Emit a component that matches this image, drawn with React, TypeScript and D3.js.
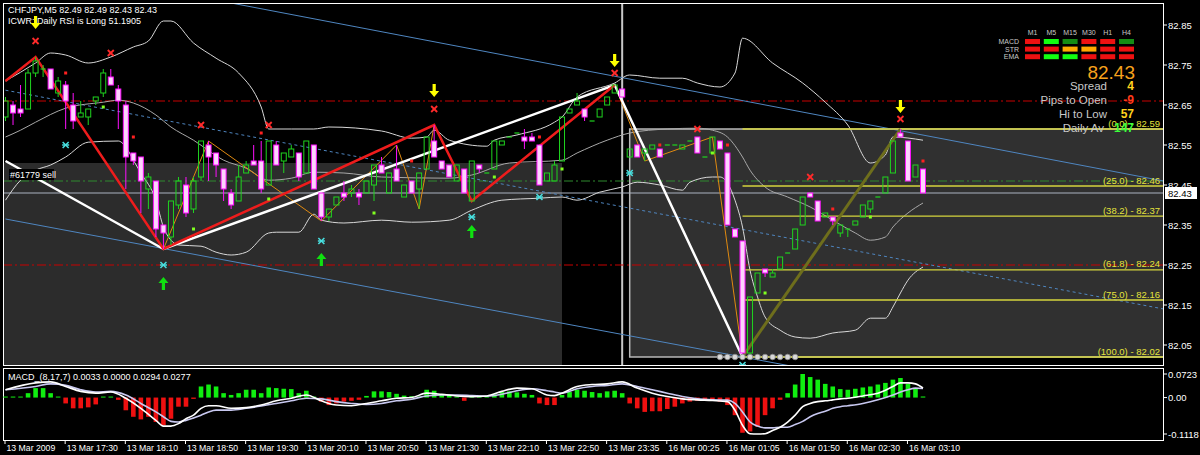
import React from "react";
import * as d3 from "d3";

// ---------------- DATA ----------------
const opens = [
  82.62, 82.65, 82.64, 82.64, 82.73, 82.74, 82.74, 82.68, 82.70, 82.65,
  82.62, 82.62, 82.66, 82.68, 82.72, 82.69, 82.65, 82.53, 82.52, 82.44,
  82.46, 82.35, 82.32, 82.40, 82.45, 82.39, 82.47, 82.55, 82.53, 82.49,
  82.43, 82.41, 82.48, 82.51, 82.51, 82.45, 82.55, 82.51, 82.52, 82.53,
  82.48, 82.55, 82.43, 82.37, 82.40, 82.43, 82.43, 82.43, 82.43, 82.45,
  82.50, 82.43, 82.49, 82.42, 82.46, 82.44, 82.49, 82.56, 82.51, 82.50,
  82.46, 82.49, 82.41, 82.50, 82.48, 82.49, 82.55, 82.57, 82.58, 82.57,
  82.57, 82.55, 82.46, 82.46, 82.51, 82.63, 82.65, 82.64, 82.61, 82.62,
  82.65, 82.68, 82.69, 82.52, 82.55, 82.53, 82.54, 82.54, 82.55, 82.55,
  82.54, 82.56, 82.57, 82.52, 82.53, 82.56, 82.53, 82.34, 82.31, 82.03,
  82.18, 82.24, 82.22, 82.24, 82.28, 82.29, 82.35, 82.43, 82.41, 82.37,
  82.37, 82.33, 82.34, 82.35, 82.37, 82.39, 82.42, 82.43, 82.48, 82.58,
  82.56, 82.47, 82.49,
];
const highs = [
  82.67, 82.66, 82.70, 82.74, 82.77, 82.75, 82.74, 82.72, 82.71, 82.68,
  82.66, 82.64, 82.67, 82.74, 82.74, 82.70, 82.66, 82.53, 82.52, 82.48,
  82.46, 82.35, 82.41, 82.47, 82.47, 82.47, 82.56, 82.56, 82.53, 82.49,
  82.44, 82.50, 82.51, 82.55, 82.56, 82.56, 82.56, 82.53, 82.55, 82.53,
  82.56, 82.55, 82.43, 82.39, 82.42, 82.46, 82.45, 82.44, 82.46, 82.50,
  82.52, 82.48, 82.55, 82.45, 82.46, 82.48, 82.57, 82.60, 82.51, 82.50,
  82.50, 82.49, 82.51, 82.50, 82.48, 82.56, 82.56, 82.57, 82.58, 82.59,
  82.58, 82.55, 82.48, 82.51, 82.62, 82.64, 82.68, 82.64, 82.61, 82.64,
  82.67, 82.70, 82.69, 82.54, 82.55, 82.54, 82.55, 82.54, 82.55, 82.55,
  82.55, 82.56, 82.57, 82.52, 82.57, 82.56, 82.53, 82.34, 82.31, 82.17,
  82.23, 82.24, 82.24, 82.27, 82.28, 82.34, 82.42, 82.43, 82.41, 82.38,
  82.37, 82.35, 82.34, 82.36, 82.40, 82.41, 82.42, 82.47, 82.56, 82.59,
  82.56, 82.50, 82.49,
];
const lows = [
  82.61, 82.60, 82.62, 82.64, 82.72, 82.72, 82.69, 82.67, 82.59, 82.59,
  82.62, 82.60, 82.65, 82.67, 82.70, 82.59, 82.44, 82.50, 82.38, 82.39,
  82.32, 82.29, 82.30, 82.39, 82.37, 82.38, 82.46, 82.46, 82.47, 82.41,
  82.39, 82.41, 82.48, 82.50, 82.43, 82.45, 82.50, 82.48, 82.52, 82.46,
  82.48, 82.44, 82.36, 82.36, 82.40, 82.41, 82.42, 82.40, 82.43, 82.41,
  82.48, 82.43, 82.46, 82.42, 82.43, 82.39, 82.49, 82.52, 82.49, 82.47,
  82.46, 82.43, 82.41, 82.48, 82.48, 82.49, 82.55, 82.57, 82.58, 82.54,
  82.56, 82.45, 82.46, 82.46, 82.51, 82.63, 82.65, 82.61, 82.61, 82.62,
  82.65, 82.68, 82.67, 82.52, 82.52, 82.51, 82.54, 82.52, 82.55, 82.55,
  82.54, 82.56, 82.53, 82.52, 82.53, 82.54, 82.35, 82.32, 82.02, 82.02,
  82.18, 82.22, 82.22, 82.24, 82.28, 82.29, 82.35, 82.42, 82.36, 82.37,
  82.35, 82.32, 82.32, 82.35, 82.37, 82.38, 82.42, 82.43, 82.48, 82.57,
  82.46, 82.47, 82.43,
];
const closes = [
  82.66, 82.63, 82.63, 82.73, 82.76, 82.74, 82.69, 82.71, 82.66, 82.61,
  82.63, 82.64, 82.67, 82.73, 82.70, 82.66, 82.52, 82.51, 82.46, 82.47,
  82.34, 82.33, 82.41, 82.46, 82.38, 82.46, 82.56, 82.52, 82.50, 82.44,
  82.40, 82.47, 82.50, 82.50, 82.44, 82.56, 82.50, 82.53, 82.54, 82.47,
  82.56, 82.44, 82.37, 82.39, 82.42, 82.42, 82.44, 82.42, 82.46, 82.50,
  82.48, 82.48, 82.46, 82.45, 82.43, 82.48, 82.57, 82.52, 82.49, 82.47,
  82.50, 82.43, 82.51, 82.49, 82.48, 82.56, 82.56, 82.57, 82.58, 82.56,
  82.56, 82.45, 82.48, 82.50, 82.62, 82.64, 82.66, 82.62, 82.61, 82.64,
  82.67, 82.70, 82.67, 82.54, 82.52, 82.54, 82.55, 82.52, 82.55, 82.55,
  82.55, 82.56, 82.53, 82.52, 82.57, 82.54, 82.35, 82.32, 82.03, 82.17,
  82.23, 82.23, 82.23, 82.27, 82.28, 82.34, 82.42, 82.42, 82.36, 82.38,
  82.36, 82.35, 82.34, 82.36, 82.40, 82.41, 82.42, 82.47, 82.56, 82.57,
  82.46, 82.50, 82.43,
];

const timeLabelBars = [0, 8, 16, 24, 32, 40, 48, 56, 64, 72, 80, 88, 96, 104, 112, 120];
const timeLabels = [
  "13 Mar 2009", "13 Mar 17:30", "13 Mar 18:10", "13 Mar 18:50", "13 Mar 19:30",
  "13 Mar 20:10", "13 Mar 20:50", "13 Mar 21:30", "13 Mar 22:10", "13 Mar 22:50",
  "13 Mar 23:35", "16 Mar 00:25", "16 Mar 01:05", "16 Mar 01:50", "16 Mar 02:30", "16 Mar 03:10",
];
const priceTicks = [82.85, 82.75, 82.65, 82.55, 82.45, 82.35, 82.25, 82.15, 82.05];

const macdHist = [
  0.001, 0.001, 0.001, 0.0135, 0.029, 0.029, 0.0135, 0.003, -0.018, -0.033,
  -0.033, -0.030, -0.021, 0.000, 0.002, -0.007, -0.039, -0.059, -0.067, -0.059,
  -0.075, -0.085, -0.065, -0.028, -0.028, -0.004, 0.034, 0.040, 0.034, 0.0135,
  0.008, 0.0135, 0.024, 0.024, 0.0135, 0.031, 0.029, 0.027, 0.026, 0.0135,
  0.021, 0.001, -0.0125, -0.023, -0.018, -0.0125, -0.010, -0.007, 0.005, 0.019,
  0.019, 0.017, 0.0115, 0.006, 0.004, 0.001, 0.024, 0.021, 0.008, 0.008,
  0.001, -0.010, 0.001, 0.001, 0.001, 0.010, 0.017, 0.019, 0.016, 0.0115,
  0.008, -0.018, -0.023, -0.023, 0.008, 0.017, 0.024, 0.021, 0.017, 0.0135,
  0.019, 0.021, 0.0135, -0.018, -0.033, -0.044, -0.042, -0.042, -0.035, -0.028,
  -0.018, -0.0125, -0.010, -0.010, -0.010, -0.0125, -0.023, -0.054, -0.108, -0.104,
  -0.090, -0.054, -0.033, -0.007, 0.0135, 0.040, 0.0723, 0.063, 0.055, 0.042,
  0.034, 0.026, 0.024, 0.027, 0.031, 0.034, 0.040, 0.045, 0.055, 0.060,
  0.042, 0.029, 0.0033,
];
const macdBars = [
  0, 4, 6, 8, 10, 12, 14, 16, 18, 20,
  21, 22, 23, 24, 25, 26, 27, 28,
  30, 32, 34, 36, 38, 40, 42, 44, 46, 48,
  50, 52, 54, 56, 58, 60, 62, 64, 66, 68,
  70, 72, 73, 74, 76, 78, 80, 82, 84, 86,
  88, 90, 92, 94, 96, 97, 98, 99, 100, 101,
  102, 103, 104, 105, 106, 107, 108, 109, 110, 111,
  112, 114, 116, 118, 119, 120, 121, 122,
];
const macdMain = [
  0.024, 0.045, 0.048, 0.034, 0.019, 0.0135, 0.017, -0.002, -0.033, -0.070,
  -0.0875, -0.0875, -0.080, -0.065, -0.054, -0.033, -0.025, -0.025,
  -0.033, -0.031, -0.023, -0.010, -0.002, 0.008, -0.010, -0.023, -0.025, -0.018,
  -0.010, -0.002, 0.000, 0.0135, 0.010, 0.005, 0.003, 0.005, 0.019, 0.029,
  0.027, 0.008, 0.006, 0.0135, 0.034, 0.040, 0.042, 0.048, 0.029, 0.0135,
  0.003, -0.004, -0.007, -0.009, -0.0125, -0.039, -0.085, -0.111, -0.1118, -0.111,
  -0.101, -0.091, -0.075, -0.054, -0.028, -0.018, -0.0125, -0.010, -0.007, -0.004,
  -0.002, 0.005, 0.0135, 0.034, 0.045, 0.045, 0.042, 0.0294,
];
const macdSignal = [
  0.024, 0.034, 0.042, 0.0375, 0.024, 0.017, 0.019, 0.008, -0.018, -0.044,
  -0.059, -0.073, -0.075, -0.070, -0.0625, -0.054, -0.044, -0.0385,
  -0.0385, -0.033, -0.026, -0.018, -0.010, -0.002, -0.004, -0.0125, -0.018, -0.021,
  -0.018, -0.010, -0.005, 0.005, 0.008, 0.008, 0.006, 0.004, 0.010, 0.021,
  0.027, 0.021, 0.017, 0.0135, 0.027, 0.034, 0.0375, 0.042, 0.034, 0.024,
  0.0135, 0.003, -0.004, -0.007, -0.008, -0.018, -0.044, -0.075, -0.0875, -0.093,
  -0.093, -0.091, -0.091, -0.083, -0.073, -0.059, -0.049, -0.042, -0.033, -0.028,
  -0.025, -0.018, -0.007, 0.008, 0.017, 0.024, 0.029, 0.0277,
];
const macdTicks = [0.0723, 0, -0.1118];
const macdTickLabels = ["0.0723", "0.00", "-0.1118"];

const upperBand = [
  [0, 82.71], [4, 82.755], [6, 82.78], [8, 82.775], [11, 82.755], [14, 82.77], [17, 82.795],
  [19, 82.81], [21, 82.86], [22, 82.86], [25, 82.805], [28, 82.767], [31, 82.73], [34, 82.645],
  [35, 82.59], [38, 82.59], [41, 82.59], [43, 82.595], [50, 82.585], [54, 82.567], [56, 82.57],
  [57, 82.587], [59, 82.562], [64, 82.547], [65, 82.562], [68, 82.575], [73, 82.607], [74, 82.62],
  [76, 82.67], [81, 82.705], [83, 82.725], [87, 82.717], [90, 82.717], [92, 82.705], [95, 82.695],
  [97, 82.73], [98, 82.817], [102, 82.755], [106, 82.705], [109, 82.657], [112, 82.6], [115, 82.505],
  [117, 82.525], [118, 82.57], [122, 82.562],
];
const middleBand = [
  [0, 82.57], [2, 82.587], [4, 82.607], [8, 82.642], [13, 82.657], [15, 82.662], [17, 82.655],
  [20, 82.625], [22, 82.595], [25, 82.562], [29, 82.512], [32, 82.492], [35, 82.462], [38, 82.467],
  [41, 82.482], [45, 82.48], [50, 82.47], [59, 82.467], [62, 82.475], [67, 82.505], [74, 82.512],
  [76, 82.53], [80, 82.562], [83, 82.58], [88, 82.59], [92, 82.592], [94, 82.587], [96, 82.57],
  [98, 82.52], [99, 82.487], [101, 82.445], [104, 82.42], [107, 82.395], [110, 82.362], [113, 82.33],
  [115, 82.312], [117, 82.32], [118, 82.345], [120, 82.38], [122, 82.405],
];
const lowerBand = [
  [0, 82.412], [2, 82.462], [4, 82.487], [6, 82.5], [8, 82.52], [11, 82.557], [15, 82.56],
  [16, 82.545], [17, 82.512], [18, 82.48], [20, 82.412], [21, 82.345], [22, 82.312], [23, 82.3],
  [26, 82.297], [28, 82.282], [30, 82.275], [32, 82.282], [35, 82.33], [36, 82.332], [39, 82.332],
  [41, 82.377], [42, 82.362], [45, 82.355], [50, 82.362], [54, 82.357], [59, 82.362], [62, 82.387],
  [66, 82.412], [71, 82.417], [74, 82.42], [76, 82.412], [79, 82.432], [82, 82.445], [84, 82.457],
  [87, 82.45], [90, 82.437], [91, 82.457], [94, 82.47], [95, 82.47], [96, 82.455], [97, 82.412],
  [98, 82.345], [99, 82.237], [100, 82.17], [101, 82.12], [103, 82.087], [105, 82.07], [107, 82.067],
  [110, 82.08], [113, 82.087], [115, 82.117], [117, 82.117], [118, 82.145], [119, 82.18],
  [120, 82.212], [122, 82.245],
];

const redZigzag = [[0, 82.71], [4, 82.77], [21, 82.29], [57, 82.60], [62, 82.41], [81, 82.70]];
const whiteZigzag = [[0, 82.51], [21, 82.29], [81, 82.70], [98, 82.02]];
const orangeZigzag = [
  [21, 82.29], [27, 82.56], [42, 82.36], [52, 82.55], [55, 82.39], [57, 82.60],
  [62, 82.41], [81, 82.70], [85, 82.51], [94, 82.57], [98, 82.02],
];
const fibTrendLine = [[98, 82.02], [119, 82.59]];
const channelTop = [[30, 82.905], [154, 82.46]];
const channelMid = [[0, 82.687], [154, 82.14]];
const channelLow = [[0, 82.365], [154, 81.823]];

const redLevels = [82.66, 82.25];
const orderLevel = 82.46;
const bidLevel = 82.43;

const fibLevels = [0, 25, 38.2, 61.8, 75, 100];
const fibLabelPrices = ["82.59", "82.46", "82.37", "82.24", "82.16", "82.02"];
const fibHigh = 82.59;
const fibLow = 82.02;
const fibStartBar = 98;
const fibBoxStartBar = 83;
const leftBoxEndBar = 74;
const leftBoxTop = 82.505;
const separatorBar = 82;

const redCrosses = [[4, 82.81], [14, 82.78], [26, 82.60], [35, 82.60], [57, 82.64], [81, 82.73], [92, 82.59], [107, 82.47], [119, 82.615]];
const redDots = [[8, 82.73], [17, 82.57], [34, 82.58], [54, 82.51], [71, 82.57], [87, 82.55], [96, 82.55], [110, 82.39], [122, 82.51]];
const greenDots = [[13, 82.645], [25, 82.34], [35, 82.415], [49, 82.38], [65, 82.47], [74, 82.49], [94, 82.53], [101, 82.18], [115, 82.37]];
const cyanMarks = [[8, 82.55], [21, 82.25], [42, 82.31], [62, 82.37], [71, 82.42], [83, 82.48], [98, 82.0]];
const downArrows = [[4, 82.84], [57, 82.67], [81, 82.745], [119, 82.63]];
const upArrows = [[21, 82.22], [42, 82.28], [62, 82.35]];
const circleBars = [95, 96, 97, 98, 99, 100, 101, 102, 103, 104, 105];
const circlePrice = 82.02;

const tfLabels = ["M1", "M5", "M15", "M30", "H1", "H4"];
const rowLabels = ["MACD", "STR", "EMA"];
const signalRows = [
  ["red", "lime", "dark", "red", "red", "dark"],
  ["red", "red", "orange", "orange", "red", "red"],
  ["red", "lime", "lime", "red", "red", "red"],
];
const infoLabels = ["Spread", "Pips to Open", "Hi to Low", "Daily Av"];
const infoValues = ["4", "-9", "57", "147"];

// ---------------- LAYOUT ----------------
const FL = 3, FR = 1163, MT = 3, MB = 365, PT = 368, PB = 440;
const FONT = "'Liberation Sans', Arial, sans-serif";

const sigColor: Record<string, string> = {
  red: "#ee1111", lime: "#11ff11", dark: "#148c14", orange: "#ffaa00",
};

export default function App() {
  const x = d3.scaleLinear().domain([0, 122]).range([5.5, 923]);
  const y = d3.scaleLinear().domain([82.85, 82.05]).range([25, 345]);
  const ym = d3.scaleLinear().domain([0.0723, -0.1118]).range([374, 434]);

  const lin = d3.line<number[]>().x((d) => x(d[0])).y((d) => y(d[1]));
  const smooth = d3.line<number[]>().x((d) => x(d[0])).y((d) => y(d[1])).curve(d3.curveMonotoneX);
  const macdLine = (vals: number[]) =>
    d3.line<number>().x((_, i) => x(macdBars[i])).y((d) => ym(d)).curve(d3.curveMonotoneX)(vals) || "";

  const fibPrice = (lv: number) => fibHigh - ((fibHigh - fibLow) * lv) / 100;
  const dashDot = "9,3,2,3";

  return (
    <div style={{ position: "fixed", left: 0, top: 0, width: 1200, height: 455, background: "#000" }}>
      <svg width={1200} height={455} style={{ display: "block" }} fontFamily={FONT}>
        <defs>
          <clipPath id="mainClip">
            <rect x={FL} y={MT} width={FR - FL} height={MB - MT} />
          </clipPath>
          <clipPath id="macdClip">
            <rect x={FL} y={PT} width={FR - FL} height={PB - PT} />
          </clipPath>
        </defs>
        <rect x={0} y={0} width={1200} height={455} fill="#000" />

        {/* ---------- MAIN PANEL ---------- */}
        <g clipPath="url(#mainClip)">
          {/* shaded rectangles */}
          <rect x={FL} y={y(leftBoxTop)} width={x(leftBoxEndBar) - FL} height={MB - y(leftBoxTop)} fill="#2c2c2c" />
          <rect x={x(fibBoxStartBar)} y={y(fibHigh)} width={1200 - x(fibBoxStartBar)} height={y(fibLow) - y(fibHigh)} fill="#303030" />
          <rect x={x(fibBoxStartBar)} y={y(fibHigh)} width={1200 - x(fibBoxStartBar)} height={y(fibLow) - y(fibHigh)} fill="none" stroke="#b8b8b8" strokeWidth={1.5} />

          {/* period separator */}
          <line x1={x(separatorBar)} x2={x(separatorBar)} y1={MT} y2={MB} stroke="#c8c8c8" strokeWidth={2} />

          {/* horizontal levels */}
          {redLevels.map((p, i) => (
            <line key={"rl" + i} x1={FL} x2={FR} y1={y(p)} y2={y(p)} stroke="#c80000" strokeWidth={1.2} strokeDasharray={dashDot} />
          ))}
          <line x1={FL} x2={FR} y1={y(orderLevel)} y2={y(orderLevel)} stroke="#2f8a2f" strokeWidth={1.2} strokeDasharray={dashDot} />
          <line x1={FL} x2={FR} y1={y(bidLevel)} y2={y(bidLevel)} stroke="#aab2c0" strokeWidth={1} />

          {/* channel lines */}
          <path d={lin(channelTop) || ""} stroke="#4f86c0" strokeWidth={1} fill="none" />
          <path d={lin(channelMid) || ""} stroke="#4f86c0" strokeWidth={1} fill="none" strokeDasharray="3,3" />
          <path d={lin(channelLow) || ""} stroke="#4f86c0" strokeWidth={1} fill="none" />

          {/* bands */}
          <path d={smooth(upperBand) || ""} stroke="#d8d8d8" strokeWidth={1} fill="none" />
          <path d={smooth(middleBand) || ""} stroke="#a8a8a8" strokeWidth={1} fill="none" />
          <path d={smooth(lowerBand) || ""} stroke="#d8d8d8" strokeWidth={1} fill="none" />

          {/* fibonacci lines */}
          {fibLevels.map((lv, i) => (
            <g key={"fib" + i}>
              <line x1={x(fibStartBar)} x2={FR} y1={y(fibPrice(lv))} y2={y(fibPrice(lv))} stroke="#d4d43c" strokeWidth={1.3} />
              <text x={1160} y={y(fibPrice(lv)) - 2.5} fill="#e4e43c" fontSize={9.5} textAnchor="end">
                {`(${lv.toFixed(1)}) - ${fibLabelPrices[i]}`}
              </text>
            </g>
          ))}

          {/* zigzags */}
          <path d={lin(orangeZigzag) || ""} stroke="#e08a10" strokeWidth={1} fill="none" />
          <path d={lin(whiteZigzag) || ""} stroke="#ffffff" strokeWidth={2.5} fill="none" />
          <path d={lin(redZigzag) || ""} stroke="#ee1c1c" strokeWidth={2.5} fill="none" />
          <path d={lin(fibTrendLine) || ""} stroke="#6e6e1c" strokeWidth={3} fill="none" />

          {/* candles */}
          {opens.map((o, i) => {
            const c = closes[i];
            const cx = x(i);
            const bull = c >= o;
            const col = bull ? "#1fd41f" : "#ff10ff";
            const top = y(Math.max(o, c));
            const bot = y(Math.min(o, c));
            const hy = y(highs[i]);
            const ly = y(lows[i]);
            const doji = bot - top < 1;
            return (
              <g key={"c" + i}>
                {hy < top && <line x1={cx} x2={cx} y1={hy} y2={top} stroke={col} strokeWidth={1} />}
                {ly > bot && <line x1={cx} x2={cx} y1={bot} y2={ly} stroke={col} strokeWidth={1} />}
                {doji ? (
                  <line x1={cx - 2.5} x2={cx + 2.5} y1={top} y2={top} stroke={col} strokeWidth={1.2} />
                ) : bull ? (
                  <rect x={cx - 2.5} y={top} width={5} height={bot - top} fill="none" stroke={col} strokeWidth={1} />
                ) : (
                  <rect x={cx - 2.5} y={top} width={5} height={bot - top} fill="#fcd4fc" stroke={col} strokeWidth={1} />
                )}
              </g>
            );
          })}

          {/* markers */}
          {circleBars.map((b) => (
            <circle key={"ci" + b} cx={x(b)} cy={y(circlePrice)} r={2.8} fill="#d8d8d8" stroke="#888" strokeWidth={0.8} />
          ))}
          {redDots.map((d, i) => (
            <rect key={"rd" + i} x={x(d[0]) - 1.5} y={y(d[1]) - 1.5} width={3} height={3} fill="#ff2020" />
          ))}
          {greenDots.map((d, i) => (
            <rect key={"gd" + i} x={x(d[0]) - 1.5} y={y(d[1]) - 1.5} width={3} height={3} fill="#80ff20" />
          ))}
          {redCrosses.map((d, i) => {
            const cx = x(d[0]), cy = y(d[1]);
            return (
              <g key={"rx" + i} stroke="#ff2a2a" strokeWidth={1.8}>
                <line x1={cx - 3} x2={cx + 3} y1={cy - 3} y2={cy + 3} />
                <line x1={cx - 3} x2={cx + 3} y1={cy + 3} y2={cy - 3} />
              </g>
            );
          })}
          {cyanMarks.map((d, i) => {
            const cx = x(d[0]), cy = y(d[1]);
            return (
              <g key={"cy" + i} stroke="#48e0e0" strokeWidth={1.5}>
                <line x1={cx - 3} x2={cx + 3} y1={cy - 3} y2={cy + 3} />
                <line x1={cx - 3} x2={cx + 3} y1={cy + 3} y2={cy - 3} />
                <line x1={cx - 3.5} x2={cx + 3.5} y1={cy} y2={cy} />
              </g>
            );
          })}
          {upArrows.map((d, i) => {
            const cx = x(d[0]), ty = y(d[1]);
            return (
              <path key={"ua" + i} fill="#10e010"
                d={`M${cx - 1.6},${ty + 13} L${cx + 1.6},${ty + 13} L${cx + 1.6},${ty + 6} L${cx + 5},${ty + 6} L${cx},${ty} L${cx - 5},${ty + 6} L${cx - 1.6},${ty + 6} Z`} />
            );
          })}
        </g>

        {/* top-left info */}
        <text x={8} y={13} fill="#fff" fontSize={9}>CHFJPY,M5  82.49 82.49 82.43 82.43</text>
        <text x={8} y={23.5} fill="#fff" fontSize={9}>ICWR: Daily RSI is Long 51.1905</text>
        {downArrows.map((d, i) => {
          const cx = x(d[0]), ty = y(d[1]);
          return (
            <path key={"da" + i} fill="#ffff00"
              d={`M${cx - 1.6},${ty - 13} L${cx + 1.6},${ty - 13} L${cx + 1.6},${ty - 6} L${cx + 5},${ty - 6} L${cx},${ty} L${cx - 5},${ty - 6} L${cx - 1.6},${ty - 6} Z`} />
          );
        })}

        {/* order label */}
        <rect x={9} y={169} width={45} height={11} fill="#000" />
        <text x={10} y={178} fill="#fff" fontSize={9}>#61779 sell</text>

        {/* signal matrix */}
        {tfLabels.map((t, j) => (
          <text key={"tf" + j} x={1032.5 + j * 18.8} y={35} fill="#c8c8c8" fontSize={7} textAnchor="middle">{t}</text>
        ))}
        {rowLabels.map((r, k) => (
          <text key={"rw" + k} x={1019} y={44 + k * 7.6} fill="#c8c8c8" fontSize={7} textAnchor="end">{r}</text>
        ))}
        {signalRows.map((row, k) =>
          row.map((s, j) => (
            <rect key={`sg${k}-${j}`} x={1025 + j * 18.8} y={39 + k * 7.6} width={15} height={5} fill={sigColor[s]} />
          ))
        )}
        <text x={1135} y={79} fill="#f7a21c" fontSize={19} textAnchor="end">82.43</text>
        {infoLabels.map((l, k) => (
          <text key={"il" + k} x={k === 3 ? 1104 : 1107} y={90 + k * 14} fill="#c8c8c8" fontSize={11.5} textAnchor="end">{l}</text>
        ))}
        {infoValues.map((v, k) => (
          <text key={"iv" + k} x={1134} y={90 + k * 14} fontSize={12} fontWeight="bold" textAnchor="end"
            fill={k === 1 ? "#ff3a1a" : k === 3 ? "#3cff3c" : "#ffd21e"}>{v}</text>
        ))}

        {/* frame */}
        <g stroke="#ffffff" strokeWidth={1} fill="none">
          <rect x={FL + 0.5} y={MT + 0.5} width={FR - FL} height={MB - MT} />
          <rect x={FL + 0.5} y={PT + 0.5} width={FR - FL} height={PB - PT} />
        </g>

        {/* price axis */}
        {priceTicks.map((p) => (
          <g key={"pt" + p}>
            <line x1={FR} x2={FR + 4} y1={y(p)} y2={y(p)} stroke="#fff" />
            <text x={FR + 5} y={y(p) + 3.5} fill="#fff" fontSize={9.5}>{p.toFixed(2)}</text>
          </g>
        ))}
        <rect x={FR + 2} y={y(bidLevel) - 6} width={32} height={12} fill="#fff" />
        <text x={FR + 5} y={y(bidLevel) + 3.5} fill="#000" fontSize={9.5}>{bidLevel.toFixed(2)}</text>

        {/* ---------- MACD PANEL ---------- */}
        <g clipPath="url(#macdClip)">
          {macdHist.map((v, i) => {
            const y0 = ym(0), y1 = ym(v);
            const h = Math.max(1, Math.abs(y1 - y0));
            return (
              <rect key={"h" + i} x={x(i) - 2.3} y={v >= 0 ? y0 - h : y0} width={4.6} height={h} fill={v >= 0 ? "#10ee10" : "#ee1010"} />
            );
          })}
          <path d={macdLine(macdSignal)} stroke="#c8c8f0" strokeWidth={1.6} fill="none" />
          <path d={macdLine(macdMain)} stroke="#ffffff" strokeWidth={1.6} fill="none" />
        </g>
        <text x={8} y={380} fill="#fff" fontSize={9}>MACD_(8,17,7) 0.0033 0.0000 0.0294 0.0277</text>
        {macdTicks.map((v, i) => (
          <g key={"mt" + i}>
            <line x1={FR} x2={FR + 4} y1={ym(v)} y2={ym(v)} stroke="#fff" />
            <text x={FR + 5} y={ym(v) + 3.5} fill="#fff" fontSize={9.5}>{macdTickLabels[i]}</text>
          </g>
        ))}

        {/* time axis */}
        {timeLabelBars.map((b, i) => (
          <g key={"tl" + i}>
            <line x1={x(b) - 0.5} x2={x(b) - 0.5} y1={PB} y2={PB + 4} stroke="#fff" />
            <text x={x(b) + 1} y={451} fill="#fff" fontSize={8.7}>{timeLabels[i]}</text>
          </g>
        ))}
      </svg>
    </div>
  );
}
